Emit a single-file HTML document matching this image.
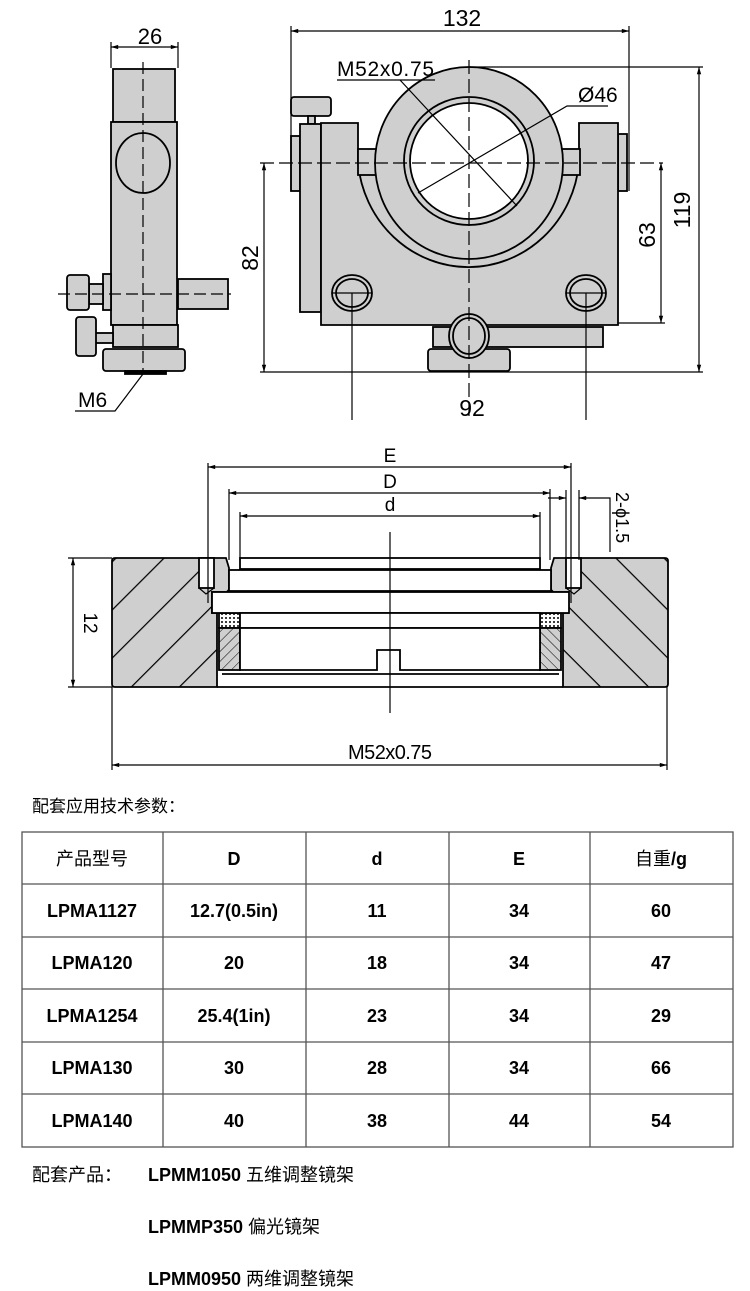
<!DOCTYPE html>
<html><head><meta charset="utf-8"><style>
html,body{margin:0;padding:0;background:#fff;}
body{width:750px;height:1291px;position:relative;overflow:hidden;font-family:"Liberation Sans","Noto Sans CJK SC",sans-serif;}
svg{position:absolute;left:0;top:0;}
.t{font-family:"Liberation Sans","Noto Sans CJK SC",sans-serif;}
</style></head><body>
<svg width="750" height="1291" viewBox="0 0 750 1291" xmlns="http://www.w3.org/2000/svg">
<defs>
<pattern id="h" patternUnits="userSpaceOnUse" width="34" height="34" patternTransform="rotate(-45)">
<rect width="34" height="34" fill="#cfcfcf"/><line x1="0" y1="0" x2="34" y2="0" stroke="#000" stroke-width="2.4"/>
</pattern>
<pattern id="h2" patternUnits="userSpaceOnUse" width="7" height="7" patternTransform="rotate(-45)">
<rect width="7" height="7" fill="#cfcfcf"/><line x1="0" y1="0" x2="7" y2="0" stroke="#000" stroke-width="1"/>
</pattern>
<pattern id="dots" patternUnits="userSpaceOnUse" width="4" height="4">
<rect width="4" height="4" fill="#fff"/><circle cx="2" cy="2" r="1" fill="#000"/>
</pattern>
<marker id="a" viewBox="0 0 10 10" refX="10" refY="5" markerWidth="8" markerHeight="6" orient="auto-start-reverse"><path d="M0,2 L10,5 L0,8 z" fill="#000"/></marker>
</defs>

<g stroke="#000" stroke-width="1.8" fill="#cfcfcf">
<rect x="113" y="69" width="62" height="53"/>
<rect x="111" y="122" width="66" height="203"/>
<ellipse cx="143" cy="163" rx="27" ry="30"/>
<rect x="178" y="279" width="50" height="30"/>
<rect x="103" y="274" width="8" height="36"/>
<rect x="89" y="284" width="14" height="20"/>
<rect x="67" y="275" width="22" height="35" rx="3"/>
<rect x="113" y="325" width="65" height="22"/>
<rect x="93" y="333" width="20" height="10"/>
<rect x="76" y="317" width="20" height="39" rx="3"/>
<rect x="103" y="349" width="82" height="22" rx="3"/>
<rect x="125" y="371" width="41" height="3" fill="#000"/>
</g>
<g stroke="#000" stroke-width="1.2" fill="none">
<line x1="143" y1="62" x2="143" y2="374" stroke-dasharray="12,5"/>
<line x1="58" y1="294" x2="231" y2="294" stroke-dasharray="12,5"/>
<line x1="111" y1="42" x2="111" y2="68"/><line x1="178" y1="42" x2="178" y2="68"/>
<line x1="111" y1="47" x2="178" y2="47" marker-start="url(#a)" marker-end="url(#a)"/>
<polyline points="143,374 115,411 75,411"/>
</g>
<text x="150" y="44" font-size="22" text-anchor="middle" class="t">26</text>
<text x="78" y="407" font-size="21" class="t">M6</text>

<g stroke="#000" stroke-width="1.8" fill="#cfcfcf">
<rect x="291" y="97" width="40" height="19" rx="3"/>
<rect x="308" y="116" width="7" height="8"/>
<rect x="291" y="136" width="9" height="55"/>
<rect x="300" y="124" width="21" height="188"/>
<rect x="618" y="134" width="9" height="57"/>
<path d="M321,123 L358,123 L358,163 L579,163 L579,123 L618,123 L618,325 L321,325 Z"/>
<path d="M358,163 A111,115 0 0 0 579,163" fill="none"/>
<rect x="433" y="327" width="170" height="20"/>
<rect x="428" y="349" width="82" height="22" rx="3"/>
<ellipse cx="469" cy="336" rx="20" ry="22"/>
<ellipse cx="469" cy="336" rx="16" ry="18" fill="none"/>
<rect x="358" y="149" width="22" height="26"/>
<rect x="560" y="149" width="20" height="26"/>
<ellipse cx="469" cy="163" rx="94" ry="96"/>
<ellipse cx="469" cy="161" rx="65" ry="64"/>
<ellipse cx="469" cy="161" rx="59" ry="58" fill="#fff"/>
<ellipse cx="352" cy="293" rx="20" ry="18"/>
<ellipse cx="352" cy="293" rx="16" ry="14" fill="none"/>
<ellipse cx="586" cy="293" rx="20" ry="18"/>
<ellipse cx="586" cy="293" rx="16" ry="14" fill="none"/>
</g>
<g stroke="#000" stroke-width="1.2" fill="none">
<line x1="469" y1="60" x2="469" y2="420" stroke-dasharray="14,5"/>
<line x1="260" y1="163" x2="663" y2="163" stroke-dasharray="14,5"/>
<line x1="352" y1="293" x2="352" y2="420"/><line x1="586" y1="293" x2="586" y2="420"/>
<line x1="332" y1="293" x2="372" y2="293"/><line x1="566" y1="293" x2="606" y2="293"/>
<line x1="291" y1="26" x2="291" y2="191"/><line x1="629" y1="26" x2="629" y2="191"/>
<line x1="291" y1="31" x2="629" y2="31" marker-start="url(#a)" marker-end="url(#a)"/>
<polyline points="337,80 435,80"/><line x1="400" y1="80" x2="517" y2="206"/>
<polyline points="608,106 567,106 418,193"/>
<line x1="469" y1="67" x2="703" y2="67"/>
<line x1="260" y1="372" x2="703" y2="372"/>
<line x1="618" y1="323" x2="665" y2="323"/>
<line x1="699" y1="67" x2="699" y2="372" marker-start="url(#a)" marker-end="url(#a)"/>
<line x1="661" y1="163" x2="661" y2="323" marker-start="url(#a)" marker-end="url(#a)"/>
<line x1="264" y1="163" x2="264" y2="372" marker-start="url(#a)" marker-end="url(#a)"/>
</g>
<text x="462" y="26" font-size="23" text-anchor="middle" class="t">132</text>
<text x="337" y="76" font-size="21" class="t" textLength="97">M52x0.75</text>
<text x="578" y="102" font-size="21" class="t">Ø46</text>
<text x="472" y="416" font-size="23" text-anchor="middle" class="t">92</text>
<text transform="translate(258,258) rotate(-90)" font-size="23" text-anchor="middle" class="t">82</text>
<text transform="translate(655,235) rotate(-90)" font-size="23" text-anchor="middle" class="t">63</text>
<text transform="translate(690,210) rotate(-90)" font-size="23" text-anchor="middle" class="t">119</text>

<g stroke="#000" stroke-width="1.8">
<g id="lb">
<path d="M115,558 L226,558 L229,568 L229,592 L212,592 L212,613 L217,613 L217,687 L115,687 Q112,687 112,684 L112,561 Q112,558 115,558 Z" fill="url(#h)"/>
<rect x="199" y="558" width="15" height="30" fill="#fff"/>
<polyline points="199,588 206,594 214,588" fill="none" stroke-width="1.2"/>
<rect x="219" y="613" width="21" height="15" fill="url(#dots)"/>
<rect x="219" y="628" width="21" height="42" fill="url(#h2)"/>
</g>
<use href="#lb" transform="translate(780,0) scale(-1,1)"/>
<rect x="240" y="558" width="300" height="11" fill="#fff"/>
<rect x="229" y="570" width="322" height="21" fill="#fff"/>
<rect x="212" y="592" width="357" height="21" fill="#fff"/>
<path d="M240,613 L540,613 L540,628 L240,628 Z" fill="#fff"/>
<path d="M240,628 L540,628 L540,670 L400,670 L400,650 L377,650 L377,670 L240,670 Z" fill="#fff"/>
<line x1="222" y1="674" x2="559" y2="674"/>
<line x1="217" y1="687" x2="563" y2="687"/>
</g>
<g stroke="#000" stroke-width="1.2" fill="none">
<line x1="390" y1="532" x2="390" y2="713"/>
<line x1="208" y1="463" x2="208" y2="603"/><line x1="571" y1="463" x2="571" y2="603"/>
<line x1="208" y1="467" x2="571" y2="467" marker-start="url(#a)" marker-end="url(#a)"/>
<line x1="229" y1="489" x2="229" y2="560"/><line x1="550" y1="489" x2="550" y2="560"/>
<line x1="229" y1="493" x2="550" y2="493" marker-start="url(#a)" marker-end="url(#a)"/>
<line x1="240" y1="512" x2="240" y2="560"/><line x1="540" y1="512" x2="540" y2="560"/>
<line x1="240" y1="516" x2="540" y2="516" marker-start="url(#a)" marker-end="url(#a)"/>
<line x1="566" y1="490" x2="566" y2="560"/><line x1="579" y1="490" x2="579" y2="560"/>
<line x1="548" y1="498" x2="566" y2="498" marker-end="url(#a)"/>
<line x1="597" y1="498" x2="579" y2="498" marker-end="url(#a)"/>
<polyline points="597,498 610,498 610,552"/>
<line x1="68" y1="558" x2="112" y2="558"/><line x1="68" y1="687" x2="112" y2="687"/>
<line x1="73" y1="558" x2="73" y2="687" marker-start="url(#a)" marker-end="url(#a)"/>
<line x1="112" y1="687" x2="112" y2="770"/><line x1="667" y1="687" x2="667" y2="770"/>
<line x1="112" y1="765" x2="667" y2="765" marker-start="url(#a)" marker-end="url(#a)"/>
</g>
<text x="390" y="462" font-size="19" text-anchor="middle" class="t">E</text>
<text x="390" y="488" font-size="19" text-anchor="middle" class="t">D</text>
<text x="390" y="511" font-size="19" text-anchor="middle" class="t">d</text>
<text transform="translate(616,492) rotate(90)" font-size="18" class="t">2-ϕ1.5</text>
<text transform="translate(84,623) rotate(90)" font-size="19" text-anchor="middle" class="t">12</text>
<text x="390" y="759" font-size="20" text-anchor="middle" class="t" textLength="84">M52x0.75</text>

<text x="32" y="812" font-size="17" class="t">配套应用技术参数：</text>
<g stroke="#555" stroke-width="1.3">
<rect x="22" y="832" width="711" height="315" fill="none"/>
<line x1="22" y1="884" x2="733" y2="884"/><line x1="22" y1="937" x2="733" y2="937"/>
<line x1="22" y1="989" x2="733" y2="989"/><line x1="22" y1="1042" x2="733" y2="1042"/>
<line x1="22" y1="1094" x2="733" y2="1094"/>
<line x1="163" y1="832" x2="163" y2="1147"/><line x1="306" y1="832" x2="306" y2="1147"/>
<line x1="449" y1="832" x2="449" y2="1147"/><line x1="590" y1="832" x2="590" y2="1147"/>
</g>
<g font-size="18" text-anchor="middle" class="t" font-weight="bold">
<text x="92" y="865" font-weight="normal">产品型号</text><text x="234" y="865">D</text><text x="377" y="865">d</text><text x="519" y="865">E</text><text x="661" y="865" font-weight="normal">自重<tspan font-weight="bold">/g</tspan></text>
<text x="92" y="917">LPMA1127</text><text x="234" y="917">12.7(0.5in)</text><text x="377" y="917">11</text><text x="519" y="917">34</text><text x="661" y="917">60</text>
<text x="92" y="969">LPMA120</text><text x="234" y="969">20</text><text x="377" y="969">18</text><text x="519" y="969">34</text><text x="661" y="969">47</text>
<text x="92" y="1022">LPMA1254</text><text x="234" y="1022">25.4(1in)</text><text x="377" y="1022">23</text><text x="519" y="1022">34</text><text x="661" y="1022">29</text>
<text x="92" y="1074">LPMA130</text><text x="234" y="1074">30</text><text x="377" y="1074">28</text><text x="519" y="1074">34</text><text x="661" y="1074">66</text>
<text x="92" y="1127">LPMA140</text><text x="234" y="1127">40</text><text x="377" y="1127">38</text><text x="519" y="1127">44</text><text x="661" y="1127">54</text>
</g>
<g font-size="18" class="t">
<text x="32" y="1181">配套产品：</text>
<text x="148" y="1181"><tspan font-weight="bold">LPMM1050</tspan> 五维调整镜架</text>
<text x="148" y="1233"><tspan font-weight="bold">LPMMP350</tspan> 偏光镜架</text>
<text x="148" y="1285"><tspan font-weight="bold">LPMM0950</tspan> 两维调整镜架</text>
</g>
</svg>
</body></html>
